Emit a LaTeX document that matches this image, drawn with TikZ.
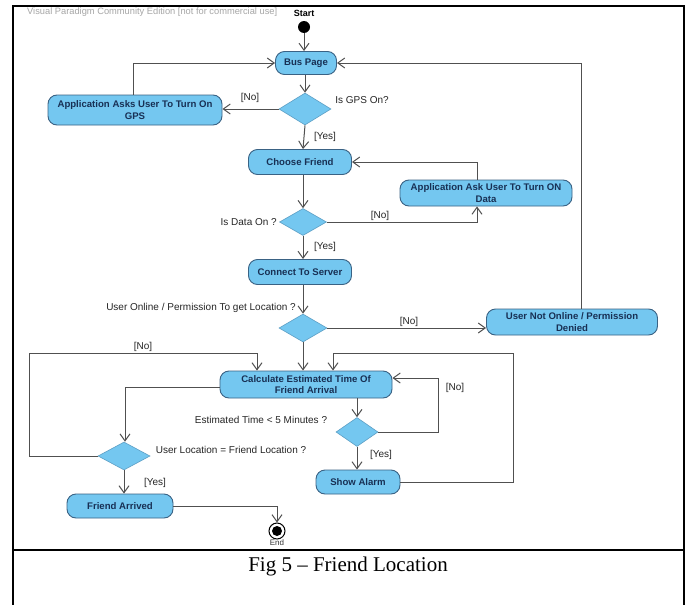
\documentclass[tikz,border=0pt]{standalone}
\usepackage{fontspec}
\setmainfont{Liberation Serif}
\setsansfont{Liberation Sans}
\usetikzlibrary{shapes.geometric,arrows.meta}

\definecolor{actfill}{RGB}{116,199,240}
\definecolor{actline}{RGB}{58,98,132}
\definecolor{acttext}{RGB}{24,48,84}
\definecolor{flow}{RGB}{80,80,80}

\tikzset{
  action/.style={rectangle, rounded corners=9pt, fill=actfill, draw=actline,
    line width=0.9pt, text=acttext, align=center, inner sep=0pt,
    font=\sffamily\bfseries\fontsize{9.6}{11.5}\selectfont},
  decision/.style={diamond, fill=actfill, draw=actfill!60!actline,
    line width=0.6pt, inner sep=0pt},
  guard/.style={font=\sffamily\fontsize{10}{12}\selectfont, text=black!85, inner sep=1pt},
  flowline/.style={draw=flow, line width=1pt,
    -{Straight Barb[length=7pt,width=10pt,line width=1pt]}},
}

\begin{document}
\begin{tikzpicture}[x=1pt,y=-1pt]
  \useasboundingbox (0,0) rectangle (688,605);
  \fill[white] (0,0) rectangle (688,605);

  % frame and caption panel
  \begin{scope}
    \clip (0,0) rectangle (688,605);
    \draw[line width=2.6pt] (13,615) -- (13,6) -- (684,6) -- (684,615);
    \draw[line width=2.6pt] (13,550) -- (684,550);
  \end{scope}
  \node[font=\fontsize{21}{25}\selectfont] (caption) at (348,566) {Fig 5 – Friend Location};

  \node[anchor=west, text=black!35, inner sep=0pt,
        font=\sffamily\fontsize{9.3}{11}\selectfont] (wm) at (27,12)
        {Visual Paradigm Community Edition [not for commercial use]};

  % initial and final nodes
  \node[circle, fill=black, minimum size=12pt, inner sep=0pt] (start) at (304,27) {};
  \node[font=\sffamily\bfseries\fontsize{9}{11}\selectfont, inner sep=0pt] (startlbl) at (304,13) {Start};
  \node[circle, draw=black, line width=1pt, fill=white, minimum size=16pt, inner sep=0pt] (end) at (277,531) {};
  \fill[black] (end) circle (5pt);
  \node[font=\sffamily\fontsize{8}{10}\selectfont, inner sep=0pt, text=black!80] (endlbl) at (277,543) {End};

  % actions
  \node[action, minimum width=61pt, minimum height=23pt] (bus) at (306,63) {Bus Page};
  \node[action, minimum width=174pt, minimum height=30pt] (appgps) at (135,110)
       {Application Asks User To Turn On\\GPS};
  \node[action, minimum width=103pt, minimum height=25pt] (choose) at (300,162) {Choose Friend};
  \node[action, minimum width=172pt, minimum height=26pt] (appdata) at (486,193)
       {Application Ask User To Turn ON\\Data};
  \node[action, minimum width=103pt, minimum height=25pt] (connect) at (300,272) {Connect To Server};
  \node[action, minimum width=171pt, minimum height=26pt] (notonline) at (572,322)
       {User Not Online / Permission\\Denied};
  \node[action, minimum width=172pt, minimum height=27pt] (calc) at (306,384.5)
       {Calculate Estimated Time Of\\Friend Arrival};
  \node[action, minimum width=84pt, minimum height=24pt] (alarm) at (358,482) {Show Alarm};
  \node[action, minimum width=106pt, minimum height=24pt] (arrived) at (120,506) {Friend Arrived};

  % decisions
  \node[decision, minimum width=52pt, minimum height=32pt] (gpsdec) at (305,109) {};
  \node[decision, minimum width=47pt, minimum height=27pt] (datadec) at (303,222) {};
  \node[decision, minimum width=48pt, minimum height=28pt] (onldec) at (303,328) {};
  \node[decision, minimum width=42pt, minimum height=29pt] (timedec) at (357,432) {};
  \node[decision, minimum width=52pt, minimum height=28pt] (locdec) at (124,456) {};

  % turning points of the loops
  \coordinate (loopL) at (29,353);
  \coordinate (loopR) at (513,353);
  \coordinate (loopT) at (438,378);

  % flows
  \draw[flowline] (start) -- (start |- bus.north);
  \draw[flowline] (bus.south -| gpsdec.north) -- (gpsdec.north);
  \draw[flowline] (gpsdec.west) -- (gpsdec.west -| appgps.east);
  \draw[flowline] ([xshift=-2pt]appgps.north) |- (bus.west);
  \draw[flowline] (gpsdec.south) -- ([xshift=3pt]choose.north);
  \draw[flowline] ([xshift=3pt]choose.south) -- (datadec.north);
  \draw[flowline] (datadec.east) -| ([xshift=-9pt]appdata.south);
  \draw[flowline] ([xshift=-9pt]appdata.north) |- (choose.east);
  \draw[flowline] (datadec.south) -- ([xshift=3pt]connect.north);
  \draw[flowline] ([xshift=3pt]connect.south) -- (onldec.north);
  \draw[flowline] (onldec.east) -- ([yshift=-6pt]notonline.west);
  \draw[flowline] ([xshift=9pt]notonline.north) |- (bus.east);
  \draw[flowline] (onldec.south) -- ([xshift=-3pt]calc.north);
  \draw[flowline] (locdec.west) -| (loopL) -| ([xshift=-49pt]calc.north);
  \draw[flowline] (alarm.east) -| (loopR) -| ([xshift=27pt]calc.north);
  \draw[flowline] ([xshift=51pt]calc.south) -- (timedec.north);
  \draw[flowline] (timedec.east) -| (loopT) -- (loopT -| calc.east);
  \draw[flowline] (timedec.south) -- (timedec.south |- alarm.north);
  \draw[flowline] ([yshift=-3pt]calc.west) -| ([xshift=1pt]locdec.north);
  \draw[flowline] (locdec.south) -- (locdec.south |- arrived.north);
  \draw[flowline] (arrived.east) -| (end.north);

  % guards and decision questions
  \node[guard] (g1) at (250,98) {[No]};
  \node[guard] (q1) at (362,100) {Is GPS On?};
  \node[guard] (g2) at (325,137) {[Yes]};
  \node[guard, anchor=east] (q2) at (278,222) {Is Data On ?};
  \node[guard] (g3) at (380,216) {[No]};
  \node[guard] (g4) at (325,247) {[Yes]};
  \node[guard, anchor=east] (q3) at (297,308) {User Online / Permission To get Location ?};
  \node[guard] (g5) at (409,322) {[No]};
  \node[guard] (g6) at (143,347) {[No]};
  \node[guard] (g7) at (455,388) {[No]};
  \node[guard] (q4) at (261,420) {Estimated Time < 5 Minutes ?};
  \node[guard] (q5) at (231,450) {User Location = Friend Location ?};
  \node[guard] (g8) at (381,455) {[Yes]};
  \node[guard] (g9) at (155,483) {[Yes]};
\end{tikzpicture}
\end{document}
